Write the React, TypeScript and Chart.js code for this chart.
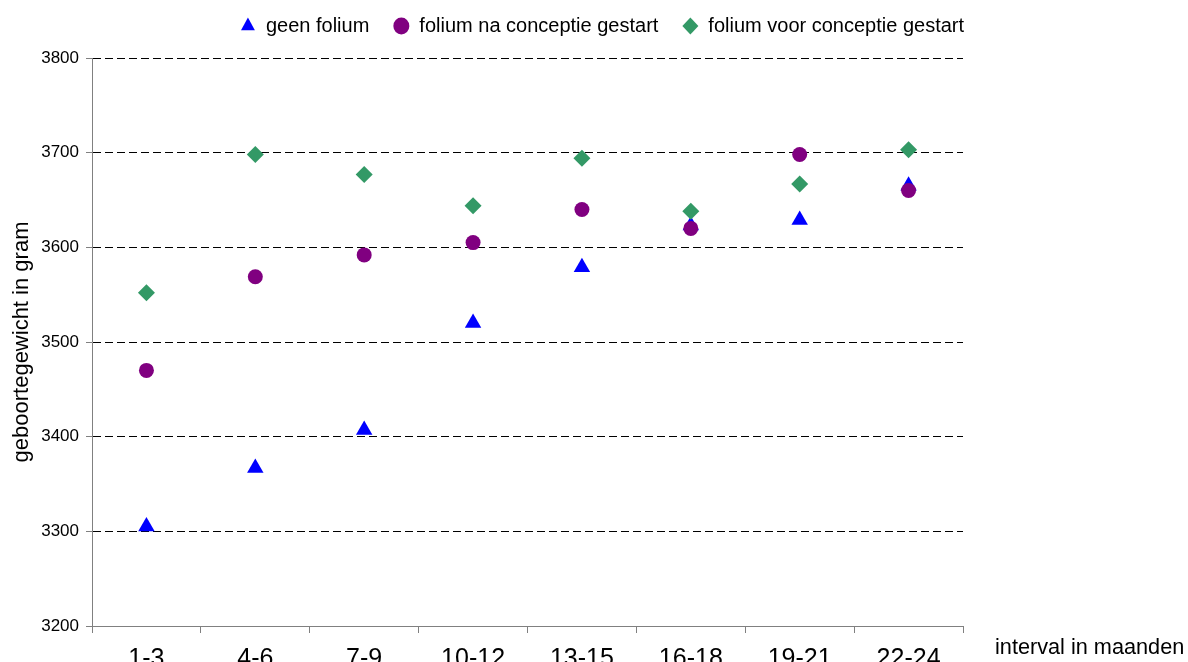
import React, { useEffect, useRef } from "react";
import { Chart, registerables } from "chart.js";

Chart.register(...registerables);

const categories = ["1-3", "4-6", "7-9", "10-12", "13-15", "16-18", "19-21", "22-24"];
const geenFolium = [3305, 3367, 3407, 3520, 3579, 3623, 3629, 3665];
const foliumNa = [3470, 3569, 3592, 3605, 3640, 3620, 3698, 3660];
const foliumVoor = [3552, 3698, 3677, 3644, 3694, 3638, 3667, 3703];
const seriesNames = ["geen folium", "folium na conceptie gestart", "folium voor conceptie gestart"];
const yTitle = "geboortegewicht in gram";
const xTitle = "interval in maanden";

const FONT = "'Liberation Sans', Arial, sans-serif";

const xTitlePlugin = {
  id: "xTitleRight",
  afterDraw(chart: any) {
    const { ctx, chartArea } = chart;
    ctx.save();
    ctx.font = `21.7px ${FONT}`;
    ctx.fillStyle = "#000";
    ctx.textAlign = "left";
    ctx.textBaseline = "alphabetic";
    ctx.fillText(xTitle, chartArea.right + 32, 654);
    ctx.restore();
  },
};

export default function App() {
  const ref = useRef<HTMLCanvasElement | null>(null);
  useEffect(() => {
    if (!ref.current) return;
    const chart = new Chart(ref.current, {
      type: "line",
      data: {
        labels: categories,
        datasets: [
          {
            label: seriesNames[0],
            data: geenFolium,
            showLine: false,
            pointStyle: "triangle",
            pointRadius: 9.5,
            pointHoverRadius: 9.5,
            pointBackgroundColor: "#0000FF",
            pointBorderColor: "#0000FF",
            backgroundColor: "#0000FF",
            borderColor: "#0000FF",
            pointBorderWidth: 0,
            order: 3,
          },
          {
            label: seriesNames[1],
            data: foliumNa,
            showLine: false,
            pointStyle: "circle",
            pointRadius: 7.5,
            pointHoverRadius: 7.5,
            pointBackgroundColor: "#800080",
            pointBorderColor: "#800080",
            backgroundColor: "#800080",
            borderColor: "#800080",
            pointBorderWidth: 0,
            order: 2,
          },
          {
            label: seriesNames[2],
            data: foliumVoor,
            showLine: false,
            pointStyle: "rectRot",
            pointRadius: 8.5,
            pointHoverRadius: 8.5,
            pointBackgroundColor: "#339966",
            pointBorderColor: "#339966",
            backgroundColor: "#339966",
            borderColor: "#339966",
            pointBorderWidth: 0,
            order: 1,
          },
        ],
      },
      options: {
        responsive: false,
        animation: false,
        events: [],
        layout: { padding: { top: -8, left: 16, right: 0, bottom: 0 } },
        plugins: {
          legend: {
            display: true,
            position: "top",
            labels: {
              usePointStyle: true,
              boxHeight: 12,
              pointStyleWidth: 16,
              padding: 24,
              color: "#000",
              font: { family: FONT, size: 20 },
              sort: (a: any, b: any) => a.datasetIndex - b.datasetIndex,
            },
          },
          title: {
            display: true,
            text: "",
            weight: 500,
            position: "top",
            font: { size: 10 },
            padding: { top: 0, bottom: 0 },
          },
          tooltip: { enabled: false },
        },
        scales: {
          x: {
            offset: true,
            grid: {
              display: true,
              offset: true,
              drawOnChartArea: false,
              drawTicks: true,
              tickLength: 7,
              color: "#808080",
              tickColor: "#808080",
            },
            border: { display: true, color: "#808080", width: 1 },
            ticks: {
              color: "#000",
              font: { family: FONT, size: 25 },
              padding: 11,
              maxRotation: 0,
              autoSkip: false,
            },
            afterFit: (s: any) => {
              s.height = 36;
            },
          },
          y: {
            min: 3200,
            max: 3800,
            position: "left",
            grid: {
              display: true,
              color: "#000",
              lineWidth: 1,
              drawTicks: true,
              tickLength: 6,
              tickColor: "#808080",
              tickBorderDash: [],
            },
            border: { display: true, color: "#808080", width: 1, dash: [8, 4] },
            ticks: {
              stepSize: 100,
              color: "#000",
              padding: 7,
              font: { family: FONT, size: 17 },
              callback: (v: any) => String(v),
            },
            title: {
              display: true,
              text: yTitle,
              color: "#000",
              font: { family: FONT, size: 22 },
              padding: { top: -7, bottom: 0 },
            },
            afterFit: (s: any) => {
              s.width = 76;
            },
          },
          yR: {
            position: "right",
            display: true,
            grid: { display: false, drawTicks: false },
            ticks: { display: false },
            border: { display: false },
            afterFit: (s: any) => {
              s.width = 225;
            },
          },
        },
      },
      plugins: [xTitlePlugin],
    });
    return () => chart.destroy();
  }, []);
  return (
    <div style={{ position: "fixed", left: 0, top: 0, width: 1188, height: 662, background: "#fff" }}>
      <canvas ref={ref} width={1188} height={662} style={{ display: "block" }} />
    </div>
  );
}
